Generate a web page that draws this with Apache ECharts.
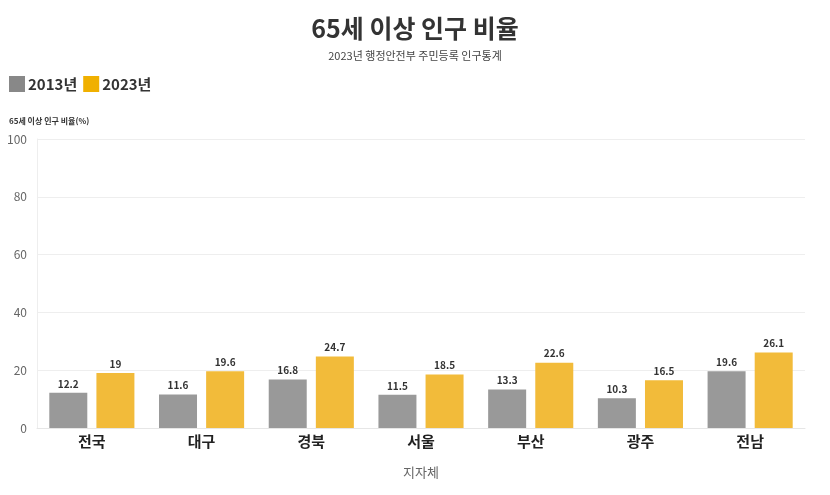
<!DOCTYPE html>
<html>
<head>
<meta charset="utf-8">
<script src="https://cdn.jsdelivr.net/npm/echarts@6/dist/echarts.min.js"></script>
<style>
html, body { margin: 0; padding: 0; background: #fff; }
#chart { width: 830px; height: 495px; }
</style>
</head>
<body>
<div id="chart"></div>
<script>
var regions = ["전국", "대구", "경북", "서울", "부산", "광주", "전남"];
var rate2013 = [12.2, 11.6, 16.8, 11.5, 13.3, 10.3, 19.6];
var rate2023 = [19, 19.6, 24.7, 18.5, 22.6, 16.5, 26.1];
var seriesNames = ["2013년", "2023년"];

var FONT = "Noto Sans CJK KR";
var myChart = echarts.init(document.getElementById("chart"));

var barLabel = {
	show: true,
	position: "top",
	distance: 4,
	fontFamily: FONT,
	fontSize: 10,
	fontWeight: "bold",
	color: "#333"
};

var options = {
	animation: false,
	textStyle: { fontFamily: FONT },
	title: [{
		text: "65세 이상 인구 비율",
		subtext: "2023년 행정안전부 주민등록 인구통계",
		left: "center",
		top: 11,
		itemGap: 9,
		textStyle: { fontFamily: FONT, fontSize: 25, fontWeight: "bold", color: "#333" },
		subtextStyle: { fontFamily: FONT, fontSize: 11, color: "#444" }
	}],
	legend: {
		left: 4,
		top: 71,
		itemWidth: 16,
		itemHeight: 16,
		itemGap: 6,
		textStyle: { fontFamily: FONT, fontSize: 15, fontWeight: "bold", color: "#333", padding: [0, 0, 0, -2] },
		data: [
			{ name: seriesNames[0], icon: "rect", itemStyle: { color: "#888888", opacity: 1 } },
			{ name: seriesNames[1], icon: "rect", itemStyle: { color: "#f0b000", opacity: 1 } }
		]
	},
	grid: { left: 37, right: 25, top: 139, bottom: 67 },
	xAxis: {
		type: "category",
		data: regions,
		name: "지자체",
		nameLocation: "middle",
		nameGap: 38,
		nameTextStyle: { fontFamily: FONT, fontSize: 13, color: "#666" },
		axisLine: { lineStyle: { color: "#e6e6e6" } },
		axisTick: { show: false },
		axisLabel: { fontFamily: FONT, fontSize: 15, fontWeight: "bold", color: "#222", margin: 6 }
	},
	yAxis: {
		type: "value",
		min: 0,
		max: 100,
		interval: 20,
		name: "65세 이상 인구 비율(%)",
		nameLocation: "end",
		nameGap: 14,
		nameTextStyle: { fontFamily: FONT, fontSize: 8, fontWeight: "bold", color: "#333", align: "left", padding: [0, 0, 0, -28] },
		axisLine: { show: true, lineStyle: { color: "#eeeeee" } },
		axisTick: { show: false },
		axisLabel: { fontFamily: FONT, fontSize: 12, color: "#666", margin: 10 },
		splitLine: { lineStyle: { color: "#eeeeee" } }
	},
	series: [{
		name: seriesNames[0],
		type: "bar",
		data: rate2013,
		barWidth: 38,
		barGap: "24%",
		itemStyle: { color: "#999999" },
		label: barLabel
	}, {
		name: seriesNames[1],
		type: "bar",
		data: rate2023,
		barWidth: 38,
		itemStyle: { color: "#f2bb3a" },
		label: barLabel
	}]
};
myChart.setOption(options);
</script>
</body>
</html>
